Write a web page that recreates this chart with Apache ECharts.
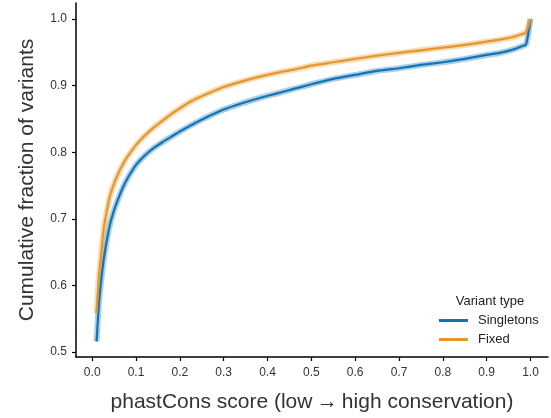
<!DOCTYPE html>
<html>
<head>
<meta charset="utf-8">
<script src="https://cdn.jsdelivr.net/npm/echarts@6/dist/echarts.min.js"></script>
<style>
  html, body { margin: 0; padding: 0; background: #fff; }
  #chart { width: 551px; height: 418px; }
</style>
</head>
<body>
<div id="chart"></div>
<script>
// phastCons score grid at which the cumulative fractions are evaluated
const phastCons = [0.01, 0.015, 0.02, 0.025, 0.03, 0.04, 0.05, 0.06, 0.07, 0.08, 0.09, 0.10,
  0.12, 0.14, 0.16, 0.18, 0.20, 0.23, 0.26, 0.30, 0.34, 0.38, 0.42, 0.46, 0.50, 0.55,
  0.60, 0.65, 0.70, 0.75, 0.80, 0.85, 0.90, 0.93, 0.96, 0.98, 0.99, 1.00];

// Cumulative fraction of singleton variants
const singletons = [0.516, 0.570, 0.605, 0.633, 0.655, 0.690, 0.713, 0.731, 0.747, 0.760, 0.771, 0.781,
  0.795, 0.806, 0.815, 0.823, 0.831, 0.842, 0.852, 0.864, 0.873, 0.881, 0.888, 0.895, 0.902, 0.910,
  0.916, 0.922, 0.926, 0.931, 0.935, 0.940, 0.946, 0.949, 0.954, 0.959, 0.962, 1.000];

// Cumulative fraction of fixed variants
const fixedVariants = [0.558, 0.612, 0.645, 0.678, 0.700, 0.733, 0.753, 0.769, 0.782, 0.793, 0.802, 0.811,
  0.825, 0.837, 0.847, 0.857, 0.866, 0.878, 0.887, 0.898, 0.906, 0.913, 0.919, 0.924, 0.930, 0.935,
  0.940, 0.945, 0.949, 0.953, 0.957, 0.961, 0.966, 0.969, 0.973, 0.977, 0.980, 1.000];

const xTicks = [0.0, 0.1, 0.2, 0.3, 0.4, 0.5, 0.6, 0.7, 0.8, 0.9, 1.0];
const yTicks = [0.5, 0.6, 0.7, 0.8, 0.9, 1.0];

const seriesNames = ['Singletons', 'Fixed'];
const seriesColors = ['#1274b6', '#e5972b'];

const FONT = '"Liberation Sans", Arial, sans-serif';
const pairs = (ys) => phastCons.map((x, i) => [x, ys[i]]);
const values = [singletons, fixedVariants];

const series = [];
values.forEach((ys, k) => {
  // soft band around each curve
  series.push({
    name: seriesNames[k] + ' band',
    type: 'line',
    data: pairs(ys),
    symbol: 'none',
    silent: true,
    smooth: 0.2,
    lineStyle: { width: 6, color: seriesColors[k], opacity: 0.35 },
    z: 2
  });
});
values.forEach((ys, k) => {
  series.push({
    name: seriesNames[k],
    type: 'line',
    data: pairs(ys),
    symbol: 'none',
    smooth: 0.2,
    lineStyle: { width: 2.2, color: seriesColors[k] },
    itemStyle: { color: seriesColors[k] },
    z: 3
  });
});

const chart = echarts.init(document.getElementById('chart'), null, { renderer: 'canvas' });
chart.setOption({
  animation: false,
  backgroundColor: '#fff',
  textStyle: { fontFamily: FONT },
  grid: { left: 76, right: 3, top: 3, bottom: 61 },
  title: {
    text: 'Variant type',
    left: 490,
    top: 295,
    padding: 0,
    textAlign: 'center',
    textStyle: { fontFamily: FONT, fontSize: 13, fontWeight: 'normal', color: '#222' }
  },
  legend: {
    data: seriesNames,
    orient: 'vertical',
    left: 439,
    top: 314,
    padding: 0,
    icon: 'rect',
    itemWidth: 29,
    itemHeight: 3,
    itemGap: 6,
    textStyle: { fontFamily: FONT, fontSize: 13, color: '#222', padding: [0, 0, 0, 5] }
  },
  xAxis: {
    type: 'value',
    min: -0.037,
    max: 1.04,
    name: 'phastCons score (low\u2009\u2192\u2009high conservation)',
    nameLocation: 'middle',
    nameGap: 35,
    nameTextStyle: { fontFamily: FONT, fontSize: 21, color: '#333' },
    splitLine: { show: false },
    axisLine: { show: true, onZero: false, lineStyle: { color: '#000', width: 1.5 } },
    axisTick: { show: true, length: 4, customValues: xTicks, lineStyle: { color: '#000', width: 1.2 } },
    axisLabel: {
      customValues: xTicks,
      formatter: (v) => v.toFixed(1),
      fontFamily: FONT, fontSize: 12, color: '#333', margin: 10
    }
  },
  yAxis: {
    type: 'value',
    min: 0.4925,
    max: 1.024,
    name: 'Cumulative fraction of variants',
    nameLocation: 'middle',
    nameGap: 38,
    nameTextStyle: { fontFamily: FONT, fontSize: 21, color: '#333' },
    splitLine: { show: false },
    axisLine: { show: true, onZero: false, lineStyle: { color: '#000', width: 1.5 } },
    axisTick: { show: true, length: 4, customValues: yTicks, lineStyle: { color: '#000', width: 1.2 } },
    axisLabel: {
      customValues: yTicks,
      formatter: (v) => v.toFixed(1),
      fontFamily: FONT, fontSize: 12, color: '#333', margin: 9
    }
  },
  series: series
});
</script>
</body>
</html>
